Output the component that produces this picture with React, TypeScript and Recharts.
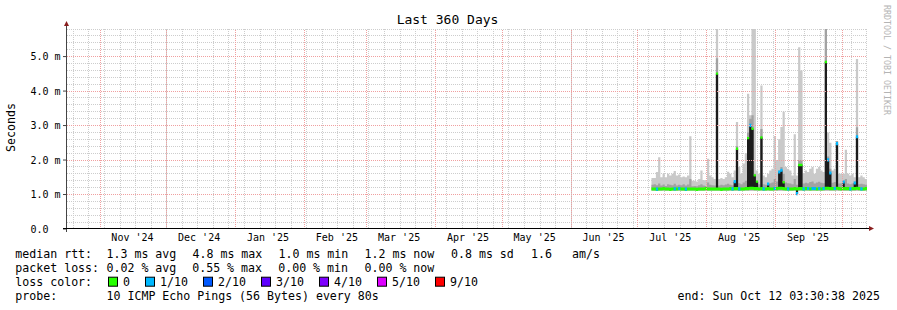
import React from "react";
import { ComposedChart, Area, Line, XAxis, YAxis, CartesianGrid, ReferenceLine } from "recharts";

const MONO = "'DejaVu Sans Mono', monospace";

// x = days since graph start (Thu Oct 17 2024 03:30:38), span 360 days
const monthStarts = [14.85, 44.85, 75.85, 106.85, 134.85, 165.85, 195.85, 226.85, 256.85, 287.85, 318.85, 348.85];
const monthLabels = ["Nov '24", "Dec '24", "Jan '25", "Feb '25", "Mar '25", "Apr '25", "May '25", "Jun '25", "Jul '25", "Aug '25", "Sep '25"];
const firstSunday = 2.85;
const yTicks = [0, 1, 2, 3, 4, 5];

// one value per day, first sample on day 263 (early July 2025)
const FIRST_DAY = 263;
const SMOKE_FLOOR = 1.12;
const n = null;

// values in ms
const smokeTop = [
  1.48, 1.48, 1.65, 2.08, 1.50, 1.60, 1.50, 1.60, 1.55, 1.60,
  1.68, 1.55, 1.58, 1.50, 1.52, 1.50, 1.55, 2.69, 1.40, 1.40,
  1.38, 1.45, 1.70, 1.42, 1.40, 2.04, 1.55, 1.50, 1.45, 5.80,
  1.45, 1.48, 1.45, 1.50, 1.66, 1.60, 1.50, 1.70, 3.10, 1.80,
  1.60, 1.90, 2.20, 3.92, 3.30, 5.80, 5.80, 1.70, 1.60, 4.16,
  1.55, 1.50, 1.60, 1.70, 1.75, 2.70, 2.00, 2.60, 2.96, 3.40,
  1.80, 1.75, 1.70, 1.55, 2.75, 1.55, 5.27, 4.60, 1.60, 1.70,
  1.65, 1.75, 1.80, 1.60, 1.75, 1.80, 1.70, 1.65, 5.80, 2.80,
  2.50, 1.70, 1.75, 2.50, 1.60, 1.60, 1.60, 2.30, 1.60, 1.55,
  1.60, 1.50, 4.93, 1.50, 1.55, 1.50, 1.45,
];

const smokeMid = [
  1.28, 1.30, 1.27, 1.32, 1.26, 1.29, 1.25, 1.30, 1.28, 1.27,
  1.31, 1.26, 1.28, 1.27, 1.30, 1.26, 1.29, 1.45, 1.24, 1.25,
  1.24, 1.27, 1.30, 1.26, 1.25, 1.35, 1.28, 1.27, 1.26, 4.95,
  1.26, 1.28, 1.27, 1.29, 1.31, 1.28, 1.27, 1.32, 2.40, 1.33,
  1.30, 1.35, 1.40, 2.80, 3.20, 3.30, 1.60, 1.35, 1.30, 2.90,
  1.30, 1.28, 1.32, 1.33, 1.35, 1.45, 1.38, 1.70, 1.80, 1.60,
  1.35, 1.33, 1.32, 1.30, 1.45, 1.28, 2.00, 2.00, 1.32, 1.34,
  1.33, 1.36, 1.38, 1.32, 1.35, 1.37, 1.34, 1.33, 5.80, 2.10,
  1.75, 1.34, 1.36, 2.55, 1.32, 1.33, 1.40, 1.45, 1.32, 1.30,
  1.32, 1.38, 2.95, 1.30, 1.31, 1.30, 1.28,
];

const median = [
  1.16, 1.16, 1.15, 1.16, 1.16, 1.17, 1.16, 1.16, 1.15, 1.16,
  1.16, 1.16, 1.17, 1.16, 1.16, 1.15, 1.16, 1.16, 1.16, 1.16,
  1.15, 1.16, 1.16, 1.16, 1.17, 1.16, 1.16, 1.16, 1.16, 1.16,
  1.16, 1.15, 1.16, 1.16, 1.16, 1.17, 1.16, 1.17, 1.17, 1.16,
  1.16, 1.16, 1.17, 1.17, 1.18, 1.18, 1.17, 1.17, 1.16, 1.17,
  1.16, 1.16, 1.17, 1.16, 1.16, 1.17, 1.17, 1.18, 1.18, 1.17,
  1.16, 1.16, 1.16, 1.16, 1.17, 1.16, 1.17, 1.17, 1.16, 1.17,
  1.17, 1.16, 1.17, 1.17, 1.16, 1.17, 1.16, 1.17, 1.18, 1.18,
  1.17, 1.17, 1.17, 1.18, 1.17, 1.16, 1.17, 1.17, 1.17, 1.16,
  1.17, 1.17, 1.18, 1.17, 1.16, 1.16, 1.17,
];

// median jumps (black bars), null = none
const spike = [
  n, n, n, n, n, n, n, n, n, n,
  n, n, n, n, n, n, n, n, n, n,
  n, n, n, n, n, n, n, n, n, 4.50,
  n, n, n, n, n, n, n, 1.37, 2.32, n,
  n, n, n, 2.63, 3.00, 2.90, 1.55, 1.37, n, 2.65,
  n, n, 1.30, n, n, n, n, 1.65, 1.70, 1.35,
  n, n, n, n, n, 1.02, 1.85, 1.85, n, n,
  n, n, n, n, n, n, n, n, 4.84, 2.00,
  1.62, n, n, 2.47, n, n, 1.36, n, n, n,
  n, 1.33, 2.67, n, n, n, n,
];

// lost pings out of 10
const loss = [
  0, 0, 1, 0, 0, 0, 0, 0, 0, 0,
  1, 0, 1, 0, 0, 1, 0, 0, 0, 0,
  0, 0, 0, 0, 0, 0, 0, 0, 0, 0,
  0, 0, 0, 0, 0, 0, 1, 1, 0, 1,
  0, 0, 0, 0, 1, 0, 0, 0, 0, 0,
  1, 0, 1, 0, 0, 1, 0, 1, 1, 0,
  0, 1, 0, 0, 0, 1, 0, 0, 1, 0,
  1, 0, 1, 1, 0, 1, 0, 1, 0, 1,
  1, 0, 1, 1, 0, 0, 1, 0, 0, 1,
  0, 1, 1, 0, 1, 0, 0,
];

const lossLegend = [
  { label: "0", color: "#26ff00", x: 108 },
  { label: "1/10", color: "#00b8ff", x: 145 },
  { label: "2/10", color: "#0059ff", x: 203 },
  { label: "3/10", color: "#5e00ff", x: 261 },
  { label: "4/10", color: "#7e00ff", x: 319 },
  { label: "5/10", color: "#dd00ff", x: 377 },
  { label: "9/10", color: "#ff0000", x: 435 },
];

const GREEN = lossLegend[0].color;
const BLUE = lossLegend[1].color;
const MINOR_GRID = "#cdcdcd";
const MAJOR_GRID = "#f0a0a0";

const rows = smokeTop.map((top, i) => {
  const m = median[i];
  const s = spike[i];
  const mark = s ?? m;
  return {
    day: FIRST_DAY + i,
    smoke: [SMOKE_FLOOR, top],
    dark: [SMOKE_FLOOR, smokeMid[i]],
    black: s == null ? [m, m] : [Math.min(m, s), Math.max(m, s)],
    base: [m - 0.045, m + 0.045],
    cap: s != null && loss[i] === 0 ? [s - 0.03, s + 0.04] : [m, m],
    lost: loss[i] > 0 ? [mark - 0.04, mark + 0.05] : [m, m],
  };
});
rows.push({ ...rows[rows.length - 1], day: FIRST_DAY + rows.length });

const labelDays = monthStarts.slice(0, monthLabels.length).map((d) => d + 14.6);
const weekDays = Array.from({ length: 52 }, (_, k) => firstSunday + 7 * k);
const minorY = Array.from({ length: 29 }, (_, k) => (k + 1) * 0.2).filter(
  (v) => Math.abs(v - Math.round(v)) > 0.01
);
const majorY = [1, 2, 3, 4, 5];

// major horizontal grid lines, drawn as flat lines across the full time range
const majorRows = majorY.map((v) => [
  { day: 0, g: v },
  { day: 360, g: v },
]);

const toPx = (scale: any, v: number) => (typeof scale === "function" ? scale(v) : scale.map(v));

const gridGen = (values: number[], key: "xAxis" | "yAxis") => (props: any) => {
  const axis = props && props[key];
  if (!axis || !axis.scale) return [];
  return values.map((v) => toPx(axis.scale, v));
};

const legendRows = [
  { y: 258, items: [[15.3, "median rtt:"], [106.5, "1.3 ms avg"], [192.5, "4.8 ms max"], [278.5, "1.0 ms min"], [364.5, "1.2 ms now"], [451, "0.8 ms sd"], [531, "1.6"], [572, "am/s"]] },
  { y: 272, items: [[15.3, "packet loss:"], [106.5, "0.02 % avg"], [192.2, "0.55 % max"], [278.2, "0.00 % min"], [364.5, "0.00 % now"]] },
  { y: 286, items: [[15.3, "loss color:"]] },
  { y: 300, items: [[15.3, "probe:"], [106.5, "10 ICMP Echo Pings (56 Bytes) every 80s"], [677.5, "end: Sun Oct 12 03:30:38 2025"]] },
];

export default function App() {
  return (
    <div style={{ position: "relative", width: 897, height: 310, background: "#fff" }}>
      <style>{"body{margin:0}"}</style>
      <ComposedChart width={897} height={310} data={rows} margin={{ top: 29, right: 30, bottom: 61, left: 0 }}>
        <CartesianGrid
          fill="none"
          stroke={MINOR_GRID}
          strokeDasharray="1 1"
          shapeRendering="crispEdges"
          horizontalCoordinatesGenerator={gridGen(minorY, "yAxis")}
          verticalCoordinatesGenerator={gridGen(weekDays, "xAxis")}
        />
        <XAxis
          type="number"
          dataKey="day"
          domain={[0, 360]}
          allowDataOverflow
          ticks={labelDays}
          interval={0}
          tickFormatter={(v: number) => monthLabels[labelDays.indexOf(v)] ?? ""}
          tick={{ fontSize: 10, fontFamily: MONO, fill: "#000" }}
          tickSize={0}
          tickMargin={5}
          tickLine={false}
          axisLine={false}
          height={20}
        />
        <YAxis
          type="number"
          domain={[0, 5.8]}
          allowDataOverflow
          ticks={yTicks}
          interval={0}
          tickFormatter={(v: number) => (v === 0 ? "0.0\u00a0\u00a0" : `${v.toFixed(1)} m`)}
          tick={{ fontSize: 10, fontFamily: MONO, fill: "#000" }}
          tickSize={4}
          tickMargin={2.5}
          tickLine={{ stroke: "#444" }}
          axisLine={false}
          width={67}
        />
        {monthStarts.map((d) => (
          <ReferenceLine key={`mx${d}`} x={d} stroke={MAJOR_GRID} strokeDasharray="1 1" shapeRendering="crispEdges" />
        ))}
        <Area type="stepAfter" dataKey="smoke" stroke="none" fill="#c9c9c9" fillOpacity={1} dot={false} activeDot={false} isAnimationActive={false} />
        <Area type="stepAfter" dataKey="dark" stroke="none" fill="#a2a2a2" fillOpacity={1} dot={false} activeDot={false} isAnimationActive={false} />
        <Area type="stepAfter" dataKey="black" stroke="none" fill="#1c1c1c" fillOpacity={1} dot={false} activeDot={false} isAnimationActive={false} />
        <Area type="stepAfter" dataKey="base" stroke="none" fill={GREEN} fillOpacity={1} dot={false} activeDot={false} isAnimationActive={false} />
        <Area type="stepAfter" dataKey="cap" stroke="none" fill={GREEN} fillOpacity={1} dot={false} activeDot={false} isAnimationActive={false} />
        <Area type="stepAfter" dataKey="lost" stroke="none" fill={BLUE} fillOpacity={1} dot={false} activeDot={false} isAnimationActive={false} />
        {majorRows.map((d, i) => (
          <Line
            key={`gy${i}`}
            data={d}
            dataKey="g"
            type="linear"
            stroke={MAJOR_GRID}
            strokeWidth={1}
            strokeDasharray="1 1"
            shapeRendering="crispEdges"
            dot={false}
            activeDot={false}
            legendType="none"
            isAnimationActive={false}
          />
        ))}
      </ComposedChart>

      <svg width={897} height={310} style={{ position: "absolute", left: 0, top: 0, pointerEvents: "none" }}>
        {/* axes and arrows */}
        <line x1={66.5} y1={232} x2={66.5} y2={25} stroke="#444" strokeWidth={1} />
        <line x1={63} y1={228.5} x2={869} y2={228.5} stroke="#000" strokeWidth={1} />
        <polygon points="64,26 69,26 66.5,21" fill="#8a1f1f" />
        <polygon points="869,226 869,231 874,228.5" fill="#8a1f1f" />

        <text x={447.5} y={24} textAnchor="middle" fontFamily={MONO} fontSize={13} fill="#000">
          Last 360 Days
        </text>
        <text transform="translate(15,127.5) rotate(-90)" textAnchor="middle" fontFamily={MONO} fontSize={11.6} fill="#000">
          Seconds
        </text>
        <text transform="translate(884,5) rotate(90)" textAnchor="start" fontFamily={MONO} fontSize={8.3} fill="#b4b4b4">
          RRDTOOL / TOBI OETIKER
        </text>

        {legendRows.map((row) =>
          row.items.map(([x, t]) => (
            <text key={`${row.y}-${x}`} x={x as number} y={row.y} fontFamily={MONO} fontSize={11.6} fill="#000" style={{ whiteSpace: "pre" }}>
              {t}
            </text>
          ))
        )}
        {lossLegend.map((l) => (
          <g key={l.label}>
            <rect x={l.x + 0.5} y={277.2} width={9} height={9} fill={l.color} stroke="#000" strokeWidth={1} />
            <text x={l.x + 15} y={286} fontFamily={MONO} fontSize={11.6} fill="#000">
              {l.label}
            </text>
          </g>
        ))}
      </svg>
    </div>
  );
}
